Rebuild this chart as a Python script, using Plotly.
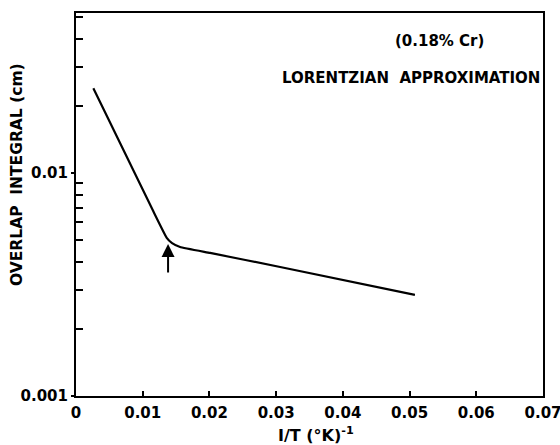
import math
import plotly.graph_objects as go

# Data
inv_T = [0.0026, 0.0115, 0.0136, 0.0144, 0.0156, 0.0201, 0.0306, 0.0508]
overlap = [0.0240, 0.00682, 0.00512, 0.00485, 0.00466, 0.00438, 0.00379, 0.00284]

x_ticks = [0, 0.01, 0.02, 0.03, 0.04, 0.05, 0.06, 0.07]
x_labels = ["0", "0.01", "0.02", "0.03", "0.04", "0.05", "0.06", "0.07"]
y_ticks = [0.001, 0.01]
y_labels = ["0.001", "0.01"]
y_minor = [0.002, 0.003, 0.004, 0.005, 0.006, 0.007, 0.008, 0.009,
           0.02, 0.03, 0.04, 0.05]
arrow_x = 0.0138
arrow_y = 0.0048

FONT = "DejaVu Sans"
W, H = 560, 445
ml, mr, mt, mb = 76, 17, 13, 49
pw, ph = W - ml - mr, H - mt - mb


def px2paper(px, py):
    return (px - ml) / pw, 1 - (py - mt) / ph


def label(px, py, text, size, angle=0):
    x, y = px2paper(px, py)
    fig.add_annotation(x=x, y=y, xref="paper", yref="paper", text=text,
                       xanchor="center", yanchor="middle", textangle=angle,
                       showarrow=False,
                       font=dict(family=FONT, size=size, color="black", weight="bold"))


fig = go.Figure()
fig.add_trace(go.Scatter(x=inv_T, y=overlap, mode="lines",
                         line=dict(color="black", width=2.2, shape="spline", smoothing=0.3),
                         showlegend=False, hoverinfo="skip"))

fig.add_annotation(x=arrow_x, y=math.log10(arrow_y), xref="x", yref="y",
                   ax=0, ay=30, axref="pixel", ayref="pixel",
                   showarrow=True, arrowhead=2, arrowsize=1.3, arrowwidth=2,
                   arrowcolor="black", text="")

label(439, 41, "(0.18% Cr)", 15)
label(411, 78, "LORENTZIAN  APPROXIMATION", 15)
label(316, 434, "I/T (°K)<sup>-1</sup>", 16)
label(17, 175, "OVERLAP  INTEGRAL (cm)", 15.5, -90)

fig.update_layout(
    width=W, height=H,
    margin=dict(l=ml, r=mr, t=mt, b=mb, autoexpand=False),
    paper_bgcolor="white", plot_bgcolor="white",
    font=dict(family=FONT, color="black"),
    xaxis=dict(range=[0, 0.07], tickvals=x_ticks, ticktext=x_labels, automargin=False,
               ticks="inside", ticklen=5, tickwidth=1.5, tickcolor="black",
               showline=True, linecolor="black", linewidth=2, mirror=True,
               showgrid=False, zeroline=False, ticklabeloverflow="allow",
               ticklabelstandoff=2,
               tickfont=dict(family=FONT, size=15, weight="bold")),
    yaxis=dict(type="log", range=[-3, -1.2825], tickvals=y_ticks, ticktext=y_labels,
               automargin=False,
               ticks="outside", ticklen=3, tickwidth=1.5, tickcolor="black",
               showline=True, linecolor="black", linewidth=2, mirror=True,
               showgrid=False, zeroline=False,
               tickfont=dict(family=FONT, size=15, weight="bold"),
               minor=dict(tickvals=y_minor, ticks="inside", ticklen=7,
                          tickwidth=1.5, tickcolor="black", showgrid=False)),
)

fig.write_html("out.html")
